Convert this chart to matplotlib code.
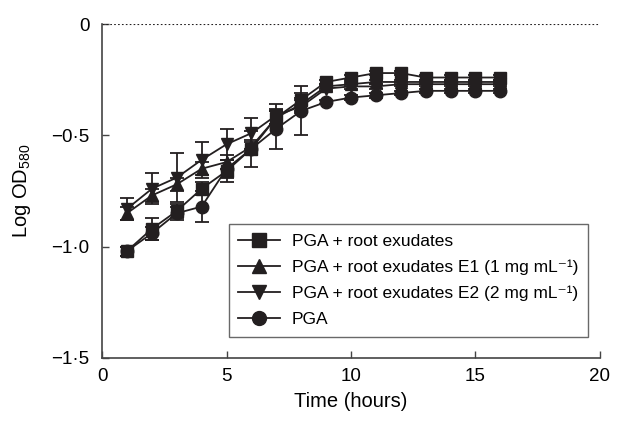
import matplotlib
matplotlib.use('Agg')
import matplotlib.pyplot as plt
from matplotlib.lines import Line2D
import numpy as np

# time points (hours)
hours = np.arange(1, 17)

# log OD580
pga_root = [-1.02, -0.92, -0.84, -0.74, -0.66, -0.56, -0.42, -0.34,
            -0.26, -0.24, -0.22, -0.22, -0.24, -0.24, -0.24, -0.24]
pga_e1 = [-0.85, -0.77, -0.72, -0.65, -0.62, -0.55, -0.42, -0.36,
          -0.28, -0.27, -0.26, -0.26, -0.26, -0.26, -0.26, -0.26]
pga_e2 = [-0.83, -0.74, -0.69, -0.61, -0.54, -0.49, -0.41, -0.37,
          -0.29, -0.28, -0.28, -0.27, -0.27, -0.27, -0.27, -0.27]
pga = [-1.02, -0.94, -0.85, -0.82, -0.65, -0.56, -0.47, -0.39,
       -0.35, -0.33, -0.32, -0.31, -0.30, -0.30, -0.30, -0.30]

# error bars (approximate)
err_root = [0.02, 0.05, 0.03, 0.03, 0.05, 0.03, 0.03, 0.03,
            0.01, 0.01, 0.01, 0.01, 0.01, 0.01, 0.01, 0.01]
err_e1 = [0.03, 0.03, 0.03, 0.03, 0.03, 0.03, 0.03, 0.03,
          0.01, 0.01, 0.01, 0.01, 0.01, 0.01, 0.01, 0.01]
err_e2 = [0.05, 0.07, 0.11, 0.08, 0.07, 0.07, 0.05, 0.03,
          0.01, 0.01, 0.01, 0.01, 0.01, 0.01, 0.01, 0.01]
err_pga = [0.02, 0.03, 0.03, 0.07, 0.04, 0.08, 0.09, 0.11,
           0.01, 0.01, 0.01, 0.01, 0.01, 0.01, 0.01, 0.01]

labels = ['PGA + root exudates',
          'PGA + root exudates E1 (1 mg mL\u207b\u00b9)',
          'PGA + root exudates E2 (2 mg mL\u207b\u00b9)',
          'PGA']
markers = ['s', '^', 'v', 'o']

y_ticks = [0, -0.5, -1.0, -1.5]
y_tick_labels = ['0', '\u22120\u00b75', '\u22121\u00b70', '\u22121\u00b75']
x_ticks = [0, 5, 10, 15, 20]

plt.rcParams['font.family'] = ['Liberation Sans', 'DejaVu Sans']

fig = plt.figure(figsize=(6.19, 4.23), dpi=100)
ax = fig.add_axes([0.165, 0.154, 0.804, 0.789])

color = '#231f20'
handles = []
for ys, es, m, lab in zip([pga_root, pga_e1, pga_e2, pga],
                          [err_root, err_e1, err_e2, err_pga],
                          markers, labels):
    ax.errorbar(hours, ys, yerr=es, marker=m, color=color, markersize=9,
                linewidth=1.3, elinewidth=1.3, capsize=5, capthick=1.3)
    # legend handle without the error bar
    handles.append(Line2D([], [], marker=m, color=color, markersize=10,
                          linewidth=1.3, label=lab))

ax.axhline(0, color=color, linestyle=(0, (1.5, 2)), linewidth=0.8)

ax.set_xlim(0, 20)
ax.set_ylim(-1.5, 0)
ax.set_xticks(x_ticks)
ax.set_yticks(y_ticks)
ax.set_yticklabels(y_tick_labels)
ax.tick_params(direction='in', length=5, width=1, labelsize=13.5,
               color='#444444', pad=7)
ax.tick_params(axis='y', pad=9)

for side in ['top', 'right']:
    ax.spines[side].set_visible(False)
for side in ['left', 'bottom']:
    ax.spines[side].set_color('#444444')
    ax.spines[side].set_linewidth(1.2)

ax.set_xlabel('Time (hours)', fontsize=14.5, labelpad=5)
ax.set_ylabel('Log OD$_{\\mathregular{580}}$', fontsize=14.5, labelpad=13)

leg = ax.legend(handles=handles, loc='lower right',
                bbox_to_anchor=(0.976, 0.063), borderaxespad=0,
                fontsize=12.5, frameon=True, fancybox=False,
                edgecolor='#444444', handlelength=2.4, borderpad=0.55,
                labelspacing=0.62, handletextpad=0.7)
leg.get_frame().set_linewidth(1.0)

fig.savefig('out.png', dpi=100)
